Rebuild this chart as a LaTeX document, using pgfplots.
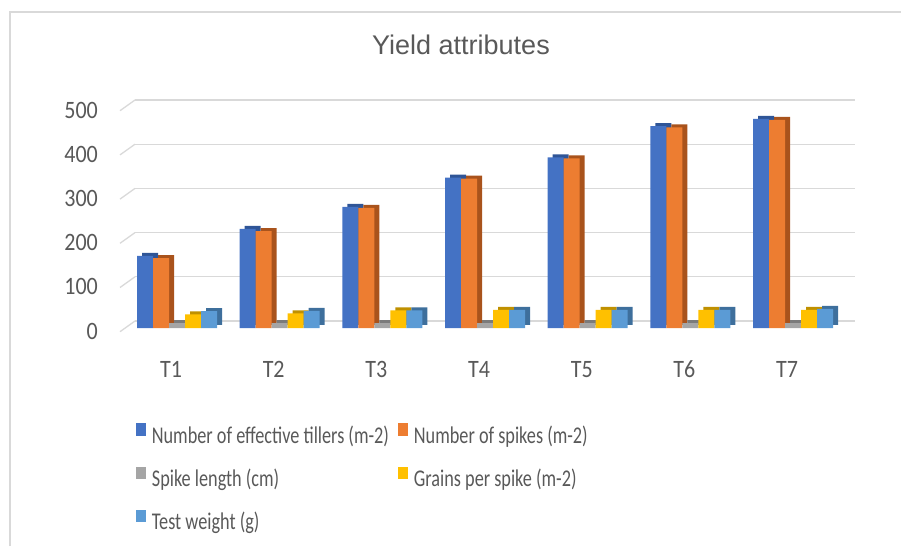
\documentclass[border=0pt]{standalone}
\usepackage{fontspec}
\setmainfont{Carlito}[FakeStretch=0.88]
\newfontfamily\legfont{Carlito}[FakeStretch=0.76]
\newfontfamily\titlefont{Liberation Sans}
\usepackage{pgfplots}
\usepackage{pgfplotstable}
\pgfplotsset{compat=1.18}
\definecolor{txt}{HTML}{595959}
\definecolor{gridc}{HTML}{D9D9D9}
\definecolor{cA}{HTML}{4472C4}
\definecolor{cB}{HTML}{ED7D31}
\definecolor{cC}{HTML}{A5A5A5}
\definecolor{cD}{HTML}{FFC000}
\definecolor{cE}{HTML}{5B9BD5}
\definecolor{dA}{HTML}{2F5597}
\definecolor{dB}{HTML}{A9531C}
\definecolor{dC}{HTML}{7B7B7B}
\definecolor{dD}{HTML}{BF9000}
\definecolor{dE}{HTML}{3E6F9C}
\pgfplotsset{leg/.style={legend image code/.code={\fill[##1] (0pt,-1pt) rectangle (10pt,11.5pt);}}}
\pgfplotstableread{
idx till spikes spl grains tw
0 163 158 11 31 38
1 224 219 11 33 39
2 274 272 11 40 40
3 340 338 11 41 41
4 386 384 11 41 41
5 457 454 11 41 41
6 473 471 11 41 43
}\data
\begin{document}
\begin{tikzpicture}[x=1pt,y=1pt]
\useasboundingbox (0,0) rectangle (901,546);
\draw[gridc, line width=1.3pt] (10,0) -- (10,534) -- (901,534);
\node[font=\titlefont\fontsize{27}{32}\selectfont, text=txt, anchor=base] at (461,491) {Yield attributes};
% back wall grid
\begin{axis}[at={(135pt,225pt)}, anchor=south west, scale only axis,
  width=720pt, height=221pt, xmin=0, xmax=1, ymin=0, ymax=500,
  ytick={0,100,...,500}, xtick=\empty, yticklabels={},
  ymajorgrids, grid style={gridc, line width=1.3pt},
  axis line style={draw=none}, tick style={draw=none}, clip=false]
\pgfplotsinvokeforeach{0,100,200,300,400,500}{\draw[gridc,line width=1.3pt] (axis cs:0,#1) -- ++(-15pt,-10.7pt);}
\end{axis}
% shadow (side/top faces)
\begin{axis}[at={(130.7pt,221pt)}, anchor=south west, scale only axis,
  width=718.7pt, height=221pt, xmin=-0.5, xmax=6.5, ymin=0, ymax=500,
  hide axis, ybar, bar width=16pt]
\addplot[fill=dA, draw=none, bar shift=-32pt] table[x=idx,y=till]{\data};
\addplot[fill=dB, draw=none, bar shift=-16pt] table[x=idx,y=spikes]{\data};
\addplot[fill=dC, draw=none, bar shift=0pt] table[x=idx,y=spl]{\data};
\addplot[fill=dD, draw=none, bar shift=16pt] table[x=idx,y=grains]{\data};
\addplot[fill=dE, draw=none, bar shift=32pt] table[x=idx,y=tw]{\data};
\end{axis}
% front faces
\begin{axis}[at={(125.7pt,218pt)}, anchor=south west, scale only axis,
  width=718.7pt, height=221pt, xmin=-0.5, xmax=6.5, ymin=0, ymax=500,
  ybar, bar width=16pt,
  axis line style={draw=none}, tick style={draw=none},
  xtick={0,...,6}, xticklabels={T1,T2,T3,T4,T5,T6,T7},
  ytick={0,100,...,500},
  /pgf/number format/assume math mode=true,
  tick label style={font=\fontsize{25}{30}\selectfont, text=txt},
  xticklabel style={anchor=center, inner sep=0pt, yshift=-37pt, xshift=-6pt},
  yticklabel style={anchor=east, inner sep=0pt, xshift=-27.7pt, yshift=-3pt},
  legend columns=2,
  legend cell align=left,
  legend style={at={(0.0139,-0.431)}, anchor=north west, draw=none, fill=none,
    inner sep=0pt, font=\legfont\fontsize{24}{29}\selectfont, text=txt,
    row sep=20pt,
    /tikz/every odd column/.append style={column sep=4pt},
    /tikz/every even column/.append style={column sep=7pt}},
  clip=false]
\addplot[fill=cA, draw=none, bar shift=-32pt, leg] table[x=idx,y=till]{\data};
\addplot[fill=cB, draw=none, bar shift=-16pt, leg] table[x=idx,y=spikes]{\data};
\addplot[fill=cC, draw=none, bar shift=0pt, leg] table[x=idx,y=spl]{\data};
\addplot[fill=cD, draw=none, bar shift=16pt, leg] table[x=idx,y=grains]{\data};
\addplot[fill=cE, draw=none, bar shift=32pt, leg] table[x=idx,y=tw]{\data};
\legend{Number of effective tillers (m-2),Number of spikes (m-2),Spike length (cm),Grains per spike (m-2),Test weight (g)}
\end{axis}
\end{tikzpicture}
\end{document}
